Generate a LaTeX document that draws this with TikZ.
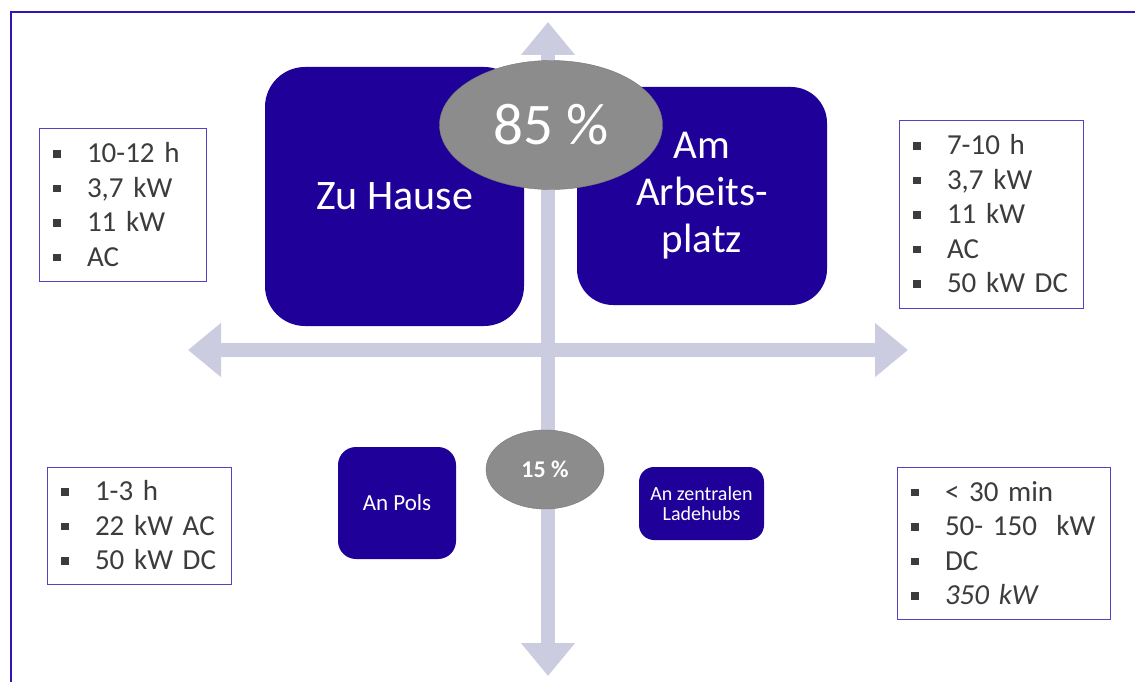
\documentclass[tikz,border=0pt]{standalone}
\usepackage{fontspec}
\setmainfont{Carlito}
\usepackage{xcolor}
\usetikzlibrary{shapes,arrows.meta,positioning,calc}
\definecolor{lsblue}{RGB}{31,0,153}
\definecolor{lsframe}{RGB}{52,20,178}
\definecolor{lsaxis}{RGB}{204,204,224}
\definecolor{lsgray}{RGB}{140,140,140}
\definecolor{lsgrayline}{RGB}{118,118,118}
\definecolor{lstext}{RGB}{60,60,60}
\definecolor{lsbox}{RGB}{84,66,196}
\newcommand{\sqbul}{\textcolor{lstext}{\rule[5pt]{7.5pt}{7.5pt}}\hspace{26.5pt}}

\begin{document}
\begin{tikzpicture}[x=1pt, y=-1pt,
    tile/.style={rectangle, fill=lsblue, text=white, align=center},
    share/.style={ellipse, fill=lsgray, draw=lsgrayline, thin, text=white, inner sep=0pt},
    facts/.style={rectangle, draw=lsbox, thick, text=lstext, align=left, inner xsep=14pt, inner ysep=0pt,
        font=\fontsize{29}{34.5}\selectfont},
    axis/.style={line width=14pt, draw=lsaxis,
        {Triangle[width=52pt,length=33pt]}-{Triangle[width=52pt,length=33pt]}},
]
    \useasboundingbox (0,0) rectangle (1135,682);
    \fill[white] (0,0) rectangle (1135,682);

    % Frame
    \draw[lsframe, line width=2pt] (11,682) -- (11,12) -- (1135,12);

    % Axes
    \coordinate (north) at (548,22);
    \coordinate (south) at (548,676);
    \coordinate (west) at (188,350);
    \coordinate (east) at (908,350);
    \draw[axis] (west) -- (east);
    \draw[axis] (south) -- (north);

    % Charging places
    \node[tile, rounded corners=40pt, minimum width=259pt, minimum height=259pt,
        font=\fontsize{42}{46}\selectfont] (zuhause) at (394.5,196.5) {Zu Hause};

    \node[tile, rounded corners=36pt, minimum width=250pt, minimum height=218pt,
        font=\fontsize{41}{47}\selectfont] (arbeitsplatz) at (702,196) {
        Am\\
        Arbeits-\\
        platz
    };

    \node[tile, rounded corners=18pt, minimum width=118pt, minimum height=112pt,
        font=\fontsize{23}{24}\selectfont] (pols) at (397,503) {An Pols};

    \node[tile, rounded corners=15pt, minimum width=125pt, minimum height=73pt,
        font=\fontsize{20}{20}\selectfont] (ladehubs) at (701.5,503.5) {
        An zentralen\\
        Ladehubs
    };

    % Shares
    \node[share, minimum width=223pt, minimum height=129pt,
        font=\fontsize{59}{60}\selectfont] (pct85) at (551,125) {85 \%};
    \node[share, minimum width=118pt, minimum height=79pt,
        font=\fontsize{24}{25}\selectfont\bfseries] (pct15) at (545,469.5) {15 \%};

    % Facts
    \node[facts, text width=139pt, minimum height=153pt] (listhome) at (122.5,204.5) {
        \sqbul 10-12 h\\
        \sqbul 3,7 kW\\
        \sqbul 11 kW\\
        \sqbul AC
    };

    \node[facts, text width=156pt, minimum height=188pt] (listwork) at (991,214) {
        \sqbul 7-10 h\\
        \sqbul 3,7 kW\\
        \sqbul 11 kW\\
        \sqbul AC\\
        \sqbul 50 kW DC
    };

    \node[facts, text width=156pt, minimum height=117pt] (listpols) at (139,525.5) {
        \sqbul 1-3 h\\
        \sqbul 22 kW AC\\
        \sqbul 50 kW DC
    };

    \node[facts, text width=185pt, minimum height=152pt] (listhubs) at (1003.5,543) {
        \sqbul < 30 min\\
        \sqbul 50- 150\ \ kW\\
        \sqbul DC\\
        \sqbul \textit{350 kW}
    };
\end{tikzpicture}
\end{document}
